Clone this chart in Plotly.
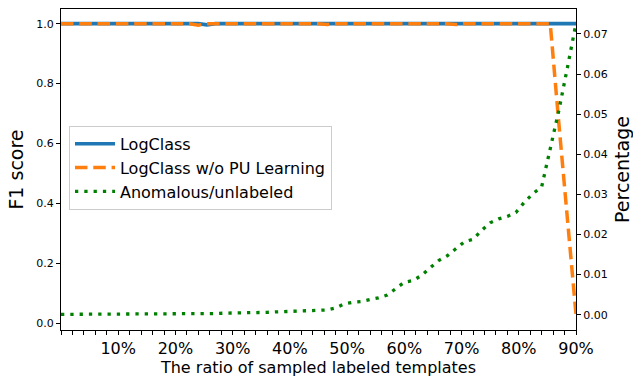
import plotly.graph_objects as go

# Data
ratio = [0, 1.5, 3, 4.5, 6, 7.5, 9, 10.5, 12, 13.5, 15, 16.5, 18, 19.5, 21, 22.5,
         24, 25.5, 27, 28.5, 30, 31.5, 33, 34.5, 36, 37.5, 39, 40.5, 42, 43.5, 45,
         46.5, 48, 49.5, 51, 52.5, 54, 55.5, 57, 58.5, 60, 61.5, 63, 64.5, 66, 67.5,
         69, 70.5, 72, 73.5, 75, 76.5, 78, 79.5, 81, 82.5, 84, 85.5, 87, 88.5, 90]

logclass_f1 = [1.0, 1.0, 1.0, 1.0, 1.0, 1.0, 1.0, 1.0, 1.0, 1.0, 1.0, 1.0, 1.0, 1.0,
               1.0, 1.0, 1.0, 0.996, 1.0, 1.0, 1.0, 1.0, 1.0, 1.0, 1.0, 1.0, 1.0, 1.0,
               1.0, 1.0, 1.0, 1.0, 1.0, 1.0, 1.0, 1.0, 1.0, 1.0, 1.0, 1.0, 1.0, 1.0,
               1.0, 1.0, 1.0, 1.0, 1.0, 1.0, 1.0, 1.0, 1.0, 1.0, 1.0, 1.0, 1.0, 1.0,
               1.0, 1.0, 1.0, 1.0, 1.0]

nopu_f1 = [1.0, 1.0, 1.0, 1.0, 1.0, 1.0, 1.0, 1.0, 1.0, 1.0, 1.0, 1.0, 1.0, 1.0,
           1.0, 1.0, 0.995, 1.0, 1.0, 1.0, 1.0, 1.0, 1.0, 1.0, 1.0, 1.0, 1.0, 1.0,
           1.0, 1.0, 1.0, 0.997, 1.0, 1.0, 1.0, 1.0, 1.0, 1.0, 1.0, 1.0, 1.0, 1.0,
           1.0, 1.0, 1.0, 1.0, 0.997, 1.0, 1.0, 1.0, 1.0, 1.0, 1.0, 1.0, 1.0, 1.0,
           1.0, 1.0, 0.668, 0.335, 0.03]

anomalous_pct = [0.0001, 0.0001, 0.0001, 0.0001, 0.0001, 0.0001, 0.0001, 0.0002,
                 0.0002, 0.0002, 0.0002, 0.0002, 0.0002, 0.0002, 0.0003, 0.0003,
                 0.0003, 0.0003, 0.0003, 0.0004, 0.0004, 0.0004, 0.0005, 0.0005,
                 0.0006, 0.0007, 0.0008, 0.0009, 0.0010, 0.0010, 0.0011, 0.0012,
                 0.0017, 0.0027, 0.0031, 0.0033, 0.0038, 0.0042, 0.0049, 0.0064,
                 0.0081, 0.0085, 0.0098, 0.0117, 0.0135, 0.0147, 0.0164, 0.0182,
                 0.0188, 0.0210, 0.0229, 0.0239, 0.0245, 0.0255, 0.0281, 0.0302,
                 0.0319, 0.0410, 0.0509, 0.0616, 0.0726]

x_tick_vals = [0, 2, 4, 6, 8, 10, 12, 14, 16, 18, 20, 22, 24, 26, 28, 30, 32, 34, 36,
               38, 40, 42, 44, 46, 48, 50, 52, 54, 56, 58, 60, 62, 64, 66, 68, 70, 72,
               74, 76, 78, 80, 82, 84, 86, 88, 90]
x_tick_text = ["" if (v % 10 or v == 0) else f"{v}%" for v in x_tick_vals]

left_ticks = [0.0, 0.2, 0.4, 0.6, 0.8, 1.0]
right_ticks = [0.00, 0.01, 0.02, 0.03, 0.04, 0.05, 0.06, 0.07]

FONT = "DejaVu Sans"

fig = go.Figure()
fig.add_trace(go.Scatter(x=ratio, y=logclass_f1, mode="lines", name="LogClass",
                         line=dict(color="#1f77b4", width=3.7)))
fig.add_trace(go.Scatter(x=ratio, y=nopu_f1, mode="lines", name="LogClass w/o PU Learning",
                         line=dict(color="#ff7f0e", width=3.5, dash="12.5px,5.8px")))
fig.add_trace(go.Scatter(x=ratio, y=anomalous_pct, mode="lines", name="Anomalous/unlabeled",
                         yaxis="y2",
                         line=dict(color="green", width=3.3, dash="3.3px,6px")))

fig.update_layout(
    width=633, height=377,
    margin=dict(l=61, r=57, t=9, b=47, autoexpand=False),
    paper_bgcolor="white", plot_bgcolor="white",
    font=dict(family=FONT, color="black"),
    showlegend=True,
    legend=dict(x=0.0155, y=0.636, xanchor="left", yanchor="top",
                bgcolor="rgba(255,255,255,0.8)", bordercolor="#cccccc", borderwidth=1,
                font=dict(size=16, family=FONT, color="black"),
                itemwidth=40, traceorder="normal"),
    xaxis=dict(range=[0, 90], tickmode="array", tickvals=x_tick_vals, ticktext=x_tick_text,
               ticks="outside", ticklen=4, tickcolor="black", showgrid=False, zeroline=False,
               showline=True, linecolor="black", linewidth=1, mirror=True,
               tickfont=dict(size=16), automargin=False,
               title=dict(text="The ratio of sampled labeled templates", font=dict(size=16),
                          standoff=0)),
    yaxis=dict(range=[-0.022, 1.049], tickmode="array", tickvals=left_ticks,
               ticktext=[f"{v:.1f}" for v in left_ticks],
               ticks="outside", ticklen=4, tickcolor="black", showgrid=False, zeroline=False,
               showline=True, linecolor="black", linewidth=1, mirror=True,
               tickfont=dict(size=11), automargin=False,
               title=dict(text="F1 score", font=dict(size=19), standoff=7)),
    yaxis2=dict(range=[-0.0038, 0.0762], overlaying="y", side="right", tickmode="array",
                tickvals=right_ticks, ticktext=[f"{v:.2f}" for v in right_ticks],
                ticks="outside", ticklen=4, tickcolor="black", showgrid=False, zeroline=False,
                showline=True, linecolor="black", linewidth=1,
                tickfont=dict(size=11), automargin=False,
                title=dict(text="Percentage", font=dict(size=19), standoff=8)),
)

fig.write_html("out.html", config={"displayModeBar": False},
               post_script="document.body.style.margin='0px';")
